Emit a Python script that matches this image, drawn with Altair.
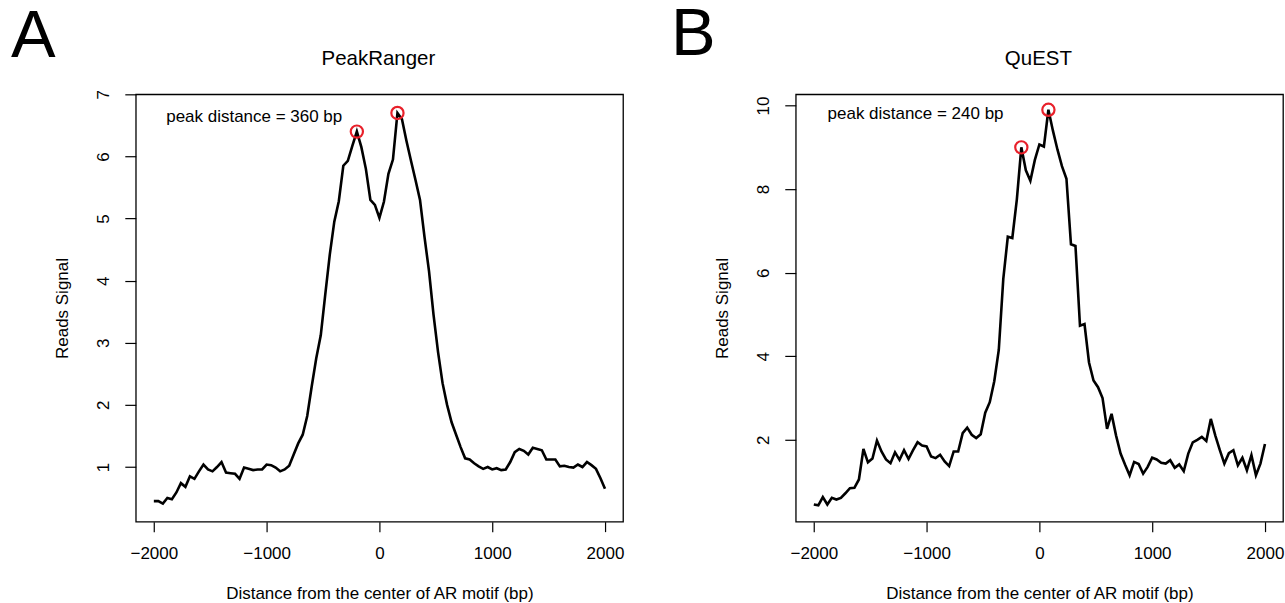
import altair as alt
import pandas as pd

# ---------------- data ----------------
distance_bp = list(range(-2000, 2001, 40))

peakranger_signal = [
    0.45, 0.45, 0.41, 0.50, 0.48, 0.59, 0.74, 0.68, 0.85, 0.81,
    0.93, 1.04, 0.96, 0.93, 1.00, 1.08, 0.91, 0.90, 0.89, 0.81,
    0.99, 0.97, 0.95, 0.96, 0.96, 1.04, 1.03, 0.99, 0.93, 0.96,
    1.02, 1.20, 1.38, 1.52, 1.82, 2.30, 2.75, 3.12, 3.78, 4.42,
    4.95, 5.28, 5.85, 5.93, 6.17, 6.40, 6.15, 5.80, 5.30, 5.22,
    5.01, 5.27, 5.72, 5.95, 6.70, 6.60, 6.25, 5.93, 5.62, 5.30,
    4.70, 4.15, 3.45, 2.85, 2.35, 2.00, 1.72, 1.52, 1.32, 1.14,
    1.12, 1.06, 1.01, 0.97, 1.00, 0.96, 0.98, 0.95, 0.96, 1.08,
    1.24, 1.29, 1.26, 1.20, 1.31, 1.29, 1.27, 1.12, 1.12, 1.12,
    1.01, 1.02, 1.00, 0.99, 1.04, 1.00, 1.08, 1.03, 0.97, 0.82,
    0.65,
]

quest_signal = [
    0.45, 0.43, 0.63, 0.45, 0.61, 0.57, 0.61, 0.72, 0.84, 0.85,
    1.05, 1.78, 1.46, 1.55, 1.98, 1.72, 1.53, 1.44, 1.70, 1.52,
    1.75, 1.54, 1.75, 1.94, 1.86, 1.84, 1.60, 1.56, 1.64, 1.48,
    1.37, 1.72, 1.72, 2.16, 2.29, 2.12, 2.04, 2.13, 2.65, 2.90,
    3.40, 4.15, 5.85, 6.86, 6.83, 7.75, 9.00, 8.45, 8.20, 8.70,
    9.07, 9.02, 9.90, 9.40, 8.95, 8.55, 8.25, 6.68, 6.64, 4.73,
    4.77, 3.85, 3.42, 3.26, 3.00, 2.26, 2.62, 2.10, 1.67, 1.40,
    1.15, 1.47, 1.42, 1.19, 1.35, 1.57, 1.53, 1.45, 1.43, 1.51,
    1.33, 1.41, 1.25, 1.67, 1.94, 2.00, 2.07, 1.97, 2.50, 2.10,
    1.75, 1.43, 1.68, 1.75, 1.39, 1.57, 1.27, 1.63, 1.15, 1.43,
    1.90,
]

peakranger_peak_x = [-200, 160]
peakranger_peak_y = [6.40, 6.70]
quest_peak_x = [-160, 80]
quest_peak_y = [9.00, 9.90]

x_ticks = [-2000, -1000, 0, 1000, 2000]
peakranger_y_ticks = [1, 2, 3, 4, 5, 6, 7]
quest_y_ticks = [2, 4, 6, 8, 10]

FONT = "Liberation Sans"
W, H = 488, 428


def panel(letter, title, signal, peak_x, peak_y, y_dom, y_ticks, note, note_xy):
    df = pd.DataFrame({"x": distance_bp, "y": signal})
    xs = alt.Scale(domain=[-2160, 2160], nice=False, zero=False)
    ys = alt.Scale(domain=y_dom, nice=False, zero=False)

    line = alt.Chart(df).mark_line(color="black", strokeWidth=2.6).encode(
        x=alt.X("x:Q", scale=xs, axis=alt.Axis(
            values=x_ticks, format="d", title="Distance from the center of AR motif (bp)",
            domain=False, grid=False, tickColor="black", tickWidth=1.2, tickSize=10,
            labelFont=FONT, labelFontSize=17, labelColor="black", labelPadding=14,
            titleFont=FONT, titleFontSize=17, titleFontWeight="normal", titleColor="black",
            titleY=72, titleBaseline="middle")),
        y=alt.Y("y:Q", scale=ys, axis=alt.Axis(
            values=y_ticks, format="d", title="Reads Signal",
            domain=False, grid=False, tickColor="black", tickWidth=1.2, tickSize=11,
            labelFont=FONT, labelFontSize=17, labelColor="black", labelPadding=12,
            labelAngle=-90, labelAlign="center", labelBaseline="bottom",
            titleFont=FONT, titleFontSize=17, titleFontWeight="normal", titleColor="black",
            titleX=-73, titleY=H / 2, titleAngle=-90, titleAlign="center",
            titleBaseline="middle")),
    )

    peaks = alt.Chart(pd.DataFrame({"x": peak_x, "y": peak_y})).mark_point(
        shape="circle", color="#e8202a", filled=False, size=150, strokeWidth=2.2, opacity=1
    ).encode(x=alt.X("x:Q", scale=xs), y=alt.Y("y:Q", scale=ys))

    note_layer = alt.Chart(pd.DataFrame({"x": [note_xy[0]], "y": [note_xy[1]], "t": [note]})).mark_text(
        align="left", baseline="middle", font=FONT, fontSize=17, color="black"
    ).encode(x=alt.X("x:Q", scale=xs), y=alt.Y("y:Q", scale=ys), text="t:N")

    title_layer = alt.Chart(pd.DataFrame({"t": [title]})).mark_text(
        align="center", baseline="alphabetic", font=FONT, fontSize=20.5, color="black"
    ).encode(x=alt.value(243), y=alt.value(-29), text="t:N")

    if letter == "A":
        letter_layer = alt.Chart(pd.DataFrame({"t": [letter]})).mark_text(
            align="left", baseline="alphabetic", font=FONT, fontSize=67, color="black"
        ).encode(x=alt.value(-125), y=alt.value(-37), text="t:N")
    else:
        letter_layer = alt.Chart(pd.DataFrame({"t": [letter]})).mark_text(
            align="left", baseline="top", font=FONT, fontSize=67, color="black"
        ).encode(x=alt.value(-125), y=alt.value(-92), text="t:N")

    layers = [line, peaks, note_layer, title_layer, letter_layer]
    if letter == "A":
        frame = alt.Chart(pd.DataFrame({"f": [0]})).mark_rect(
            fill="white", fillOpacity=0, strokeOpacity=0
        ).encode(x=alt.value(-135), x2=alt.value(1150), y=alt.value(-92), y2=alt.value(508))
        layers = [frame] + layers
    return alt.layer(*layers).properties(width=W, height=H)


chart_a = panel("A", "PeakRanger", peakranger_signal, peakranger_peak_x, peakranger_peak_y,
                [0.12, 7.0], peakranger_y_ticks, "peak distance = 360 bp", (-1890, 6.63))
chart_b = panel("B", "QuEST", quest_signal, quest_peak_x, quest_peak_y,
                [0.04, 10.27], quest_y_ticks, "peak distance = 240 bp", (-1878, 9.79))

chart = alt.hconcat(chart_a, chart_b, spacing=173, bounds="flush").properties(
    padding=0, background="white"
).configure_view(stroke="black", strokeWidth=1.3)

chart.save("out.html", embed_options={"renderer": "svg", "actions": False})
